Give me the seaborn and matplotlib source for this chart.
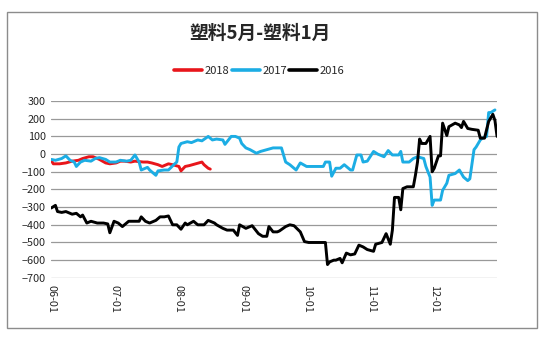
import matplotlib
matplotlib.use("Agg")
import matplotlib.pyplot as plt
from matplotlib.patches import Rectangle
from matplotlib.lines import Line2D
import pandas as pd
import seaborn as sns

# ---- data (MM-DD, value) ----
dates_2018 = ["06-01","06-02","06-05","06-08","06-11","06-14","06-16","06-19","06-21","06-24",
              "06-27","06-29","07-02","07-04","07-06","07-09","07-11","07-15","07-17","07-19",
              "07-22","07-24","07-27","07-29","08-01","08-02","08-04","08-06","08-09","08-12",
              "08-13","08-15","08-16"]
vals_2018 = [-35,-55,-55,-50,-40,-35,-25,-15,-15,-30,
             -50,-55,-50,-40,-40,-45,-40,-45,-45,-50,
             -60,-70,-55,-60,-70,-95,-70,-65,-55,-45,
             -60,-80,-85]

dates_2017 = ["06-01","06-03","06-06","06-08","06-10","06-12","06-13","06-15","06-17","06-20",
              "06-22","06-24","06-27","06-29","07-02","07-04","07-07","07-09","07-11","07-13",
              "07-14","07-17","07-18","07-21","07-22","07-25","07-27","07-30","07-31","08-01",
              "08-02","08-05","08-07","08-10","08-12","08-15","08-17","08-19","08-22","08-23",
              "08-26","08-28","08-30","08-31","09-02","09-04","09-07","09-09","09-12","09-15",
              "09-17","09-19","09-21","09-23","09-26","09-28","10-01","10-04","10-09","10-10",
              "10-12","10-13","10-15","10-17","10-19","10-22","10-23","10-25","10-27","10-28",
              "10-30","11-02","11-04","11-07","11-09","11-11","11-14","11-15","11-16","11-19",
              "11-21","11-23","11-26","11-27","11-29","11-30","12-01","12-04","12-05","12-07",
              "12-08","12-11","12-13","12-15","12-17","12-18","12-20","12-21","12-23","12-24",
              "12-26","12-27","12-28","12-30"]
vals_2017 = [-30,-35,-25,-10,-35,-45,-70,-45,-35,-40,
             -25,-20,-30,-45,-45,-35,-40,-35,-5,-45,
             -90,-75,-90,-120,-95,-90,-90,-55,-45,40,
             60,70,65,80,75,100,80,85,80,55,
             100,100,90,60,35,25,5,15,25,35,
             35,35,-45,-60,-90,-50,-70,-70,-70,-45,
             -45,-125,-80,-80,-60,-90,-90,-5,-5,-45,
             -40,15,0,-15,20,-5,-5,15,-45,-45,
             -25,-15,-25,-70,-130,-290,-260,-260,-205,-165,
             -120,-110,-90,-130,-150,-140,25,40,80,90,
             100,235,235,250]

dates_2016 = ["06-01","06-03","06-04","06-06","06-08","06-11","06-13","06-15","06-16","06-18",
              "06-20","06-23","06-26","06-28","06-29","07-01","07-03","07-05","07-08","07-10",
              "07-13","07-14","07-16","07-18","07-21","07-23","07-25","07-27","07-29","07-31",
              "08-02","08-04","08-05","08-08","08-10","08-13","08-15","08-18","08-19","08-22",
              "08-24","08-27","08-29","08-30","09-02","09-05","09-08","09-10","09-12","09-13",
              "09-15","09-17","09-18","09-21","09-23","09-25","09-28","09-30","10-02","10-10",
              "10-11","10-12","10-14","10-15","10-17","10-18","10-20","10-22","10-24","10-26",
              "10-28","10-30","11-02","11-03","11-06","11-08","11-10","11-11","11-12","11-14",
              "11-15","11-16","11-18","11-21","11-22","11-23","11-24","11-25","11-27","11-29",
              "11-30","12-01","12-03","12-04","12-05","12-07","12-08","12-11","12-13","12-14",
              "12-15","12-17","12-19","12-22","12-23","12-25","12-27","12-29","12-30","12-31"]
vals_2016 = [-305,-290,-325,-330,-325,-340,-335,-355,-345,-390,
             -380,-390,-390,-395,-445,-380,-390,-410,-380,-380,
             -380,-355,-380,-390,-375,-355,-355,-350,-400,-400,
             -425,-390,-400,-380,-400,-400,-375,-390,-400,-420,
             -430,-430,-460,-400,-420,-405,-450,-465,-465,-410,
             -440,-440,-435,-410,-400,-405,-440,-495,-500,-500,
             -625,-610,-600,-600,-590,-615,-560,-570,-565,-515,
             -525,-540,-550,-510,-500,-450,-510,-430,-245,-245,
             -315,-195,-185,-185,-120,-45,85,60,60,100,
             -100,-80,-10,-10,175,105,155,175,165,150,
             185,145,140,135,90,90,185,225,190,100]

series_names = ["2018", "2017", "2016"]
series_colors = ["#E8161B", "#1CADE4", "#000000"]
title_text = "塑料5月-塑料1月"
x_tick_labels = ["06-01", "07-01", "08-01", "09-01", "10-01", "11-01", "12-01"]

def to_dt(mds):
    return pd.to_datetime(["2001-" + m for m in mds])

frames = []
for name, d, v in zip(series_names, [dates_2018, dates_2017, dates_2016],
                      [vals_2018, vals_2017, vals_2016]):
    frames.append(pd.DataFrame({"date": to_dt(d), "value": v, "series": name}))
df = pd.concat(frames, ignore_index=True)

sns.set_theme(style="white")
plt.rcParams["font.family"] = ["Noto Sans CJK SC", "DejaVu Sans"]

fig = plt.figure(figsize=(5.45, 3.38), dpi=100)
ax = fig.add_axes([0.094, 0.178, 0.818, 0.523])

# outer chart border
fig.patches.append(Rectangle((0.013, 0.03), 0.972, 0.935, transform=fig.transFigure,
                             fill=False, edgecolor="#8c8c8c", linewidth=1.0))

sns.lineplot(data=df, x="date", y="value", hue="series", hue_order=series_names,
             palette=dict(zip(series_names, series_colors)), linewidth=2.1,
             ax=ax, legend=False, sort=True)

ax.set_ylim(-700, 300)
ax.set_yticks(range(-700, 301, 100))
ax.yaxis.grid(True, color="#999999", linewidth=0.9)
ax.set_axisbelow(True)
ax.set_xlim(pd.Timestamp("2001-06-01"), pd.Timestamp("2001-12-31"))
ax.set_xticks(to_dt(x_tick_labels))
ax.set_xticklabels(x_tick_labels, rotation=-90, fontsize=7.8)
ax.tick_params(axis="y", labelsize=7.8, length=0, pad=4)
ax.tick_params(axis="x", length=0, pad=5)
for s in ax.spines.values():
    s.set_visible(False)
ax.set_xlabel("")
ax.set_ylabel("")

fig.text(0.476, 0.9, title_text, ha="center", va="center", fontsize=13.5, fontweight="bold")

handles = [Line2D([0], [0], color=c, linewidth=2.6) for c in series_colors]
fig.legend(handles, series_names, loc="center", bbox_to_anchor=(0.476, 0.79), ncol=3,
           frameon=False, fontsize=8, handlelength=2.5, handletextpad=0.25,
           columnspacing=0.2)

fig.savefig("out.png", dpi=100)
